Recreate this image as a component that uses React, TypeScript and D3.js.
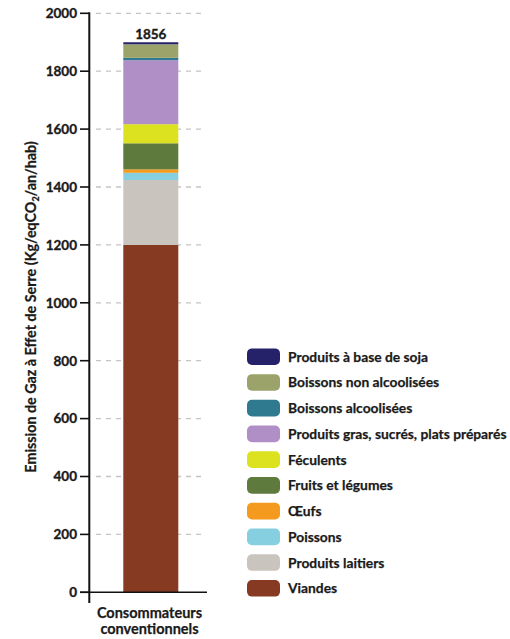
import React from "react";
import * as d3 from "d3";

const categories = ["Consommateurs conventionnels"];
const seriesNames = [
  "Viandes",
  "Produits laitiers",
  "Poissons",
  "Œufs",
  "Fruits et légumes",
  "Féculents",
  "Produits gras, sucrés, plats préparés",
  "Boissons alcoolisées",
  "Boissons non alcoolisées",
  "Produits à base de soja",
];
const seriesValues = [1200, 224, 25, 12, 90, 66, 221, 8, 47, 7];
const seriesColors = [
  "#873a22",
  "#c9c4be",
  "#86cfe0",
  "#f39a1f",
  "#5f7a3d",
  "#dde220",
  "#af8fc6",
  "#2f7a8f",
  "#9ba36b",
  "#25226a",
];
const totalLabel = "1856";
const yTicks = [0, 200, 400, 600, 800, 1000, 1200, 1400, 1600, 1800, 2000];
const legendOrder = [9, 8, 7, 6, 5, 4, 3, 2, 1, 0];

const FONT = "Lato, 'Open Sans', sans-serif";
const INK = "#1a1a1a";
const heavy = { stroke: INK, strokeWidth: 0.35 };

export default function App() {
  const y = d3.scaleLinear().domain([0, 2000]).range([592.3, 13.3]);
  const x = d3.scaleBand().domain(categories).range([95.8, 205.8]).paddingInner(0).paddingOuter(0.5);

  const stackData = [
    Object.fromEntries(seriesNames.map((n, i) => [n, seriesValues[i]])),
  ];
  const stacked = d3.stack<any>().keys(seriesNames)(stackData as any);

  const legendY = d3
    .scalePoint<number>()
    .domain(legendOrder)
    .range([356.7, 588.3]);

  return (
    <svg width={510} height={639} style={{ position: "absolute", left: 0, top: 0 }}>
      <rect width={510} height={639} fill="#fff" />
      {/* gridlines */}
      {yTicks
        .filter((t) => t > 0)
        .map((t) => (
          <line
            key={t}
            x1={96}
            x2={206}
            y1={y(t)}
            y2={y(t)}
            stroke="#c4c4c4"
            strokeWidth={1.3}
            strokeDasharray="5,5"
          />
        ))}
      {/* bars */}
      {stacked.map((s, i) =>
        s.map((d, j) => (
          <rect
            key={i + "-" + j}
            x={x(categories[j])!}
            width={x.bandwidth()}
            y={y(d[1])}
            height={y(d[0]) - y(d[1])}
            fill={seriesColors[i]}
          />
        ))
      )}
      {/* total label */}
      <text
        x={x(categories[0])! + x.bandwidth() / 2}
        y={y(d3.sum(seriesValues)) - 3.5}
        textAnchor="middle"
        fontFamily={FONT}
        fontWeight="bold"
        fontSize={13.5}
        fill={INK}
        {...heavy}
      >
        {totalLabel}
      </text>
      {/* axes */}
      <line x1={89.3} x2={89.3} y1={y(2000) - 1} y2={603} stroke="#111" strokeWidth={2} />
      <line x1={80} x2={207} y1={y(0)} y2={y(0)} stroke="#111" strokeWidth={1.6} />
      {yTicks.map((t) => (
        <g key={t}>
          <line x1={80} x2={89} y1={y(t)} y2={y(t)} stroke="#111" strokeWidth={1.6} />
          <text
            x={77}
            y={y(t)}
            dy="0.36em"
            textAnchor="end"
            fontFamily={FONT}
            fontWeight="bold"
            fontSize={13.5}
            fill={INK}
            {...heavy}
          >
            {t}
          </text>
        </g>
      ))}
      {/* y axis title */}
      <text
        transform="translate(36,307) rotate(-90)"
        textAnchor="middle"
        fontFamily={FONT}
        fontWeight="bold"
        fontSize={14.3}
        fill={INK}
        stroke={INK}
        strokeWidth={0.25}
      >
        Emission de Gaz à Effet de Serre (Kg/eqCO
        <tspan fontSize={9} dy={3}>2</tspan>
        <tspan dy={-3}>/an/hab)</tspan>
      </text>
      {/* category label */}
      <text
        textAnchor="middle"
        fontFamily={FONT}
        fontWeight="bold"
        fontSize={14.5}
        fill={INK}
        stroke={INK}
        strokeWidth={0.25}
      >
        <tspan x={149.5} y={618}>Consommateurs</tspan>
        <tspan x={149.5} y={634}>conventionnels</tspan>
      </text>
      {/* legend */}
      {legendOrder.map((i) => (
        <g key={i} transform={`translate(247,${legendY(i)})`}>
          <rect x={0} y={-8.3} width={33} height={16.6} rx={5} fill={seriesColors[i]} />
          <text
            x={41}
            y={0}
            dy="0.36em"
            fontFamily={FONT}
            fontWeight="bold"
            fontSize={13.8}
            fill={INK}
            stroke={INK}
            strokeWidth={0.25}
          >
            {seriesNames[i]}
          </text>
        </g>
      ))}
    </svg>
  );
}
